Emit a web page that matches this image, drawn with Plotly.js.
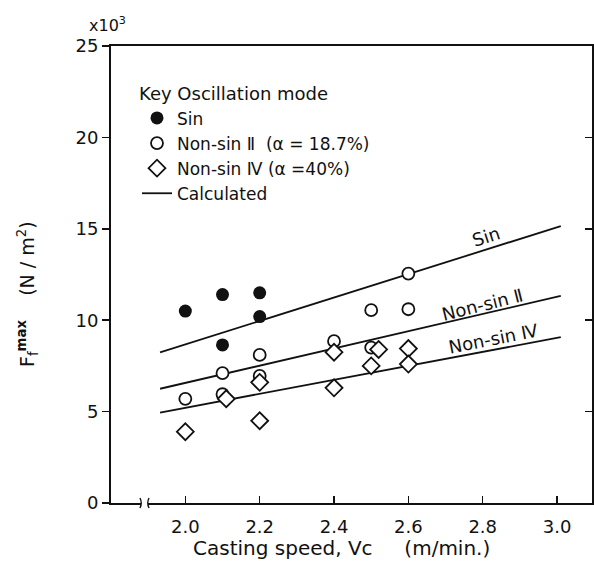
<!DOCTYPE html>
<html>
<head>
<meta charset="utf-8">
<script src="https://cdn.plot.ly/plotly-3.0.1.min.js"></script>
<style>html,body{margin:0;padding:0;background:#fff;}#chart{width:594px;height:575px;}</style>
</head>
<body>
<div id="chart"></div>
<script>
// ---- Data ----
// Casting speed Vc (m/min) and Ff max (x10^3 N/m^2)
const sinX = [2.0, 2.1, 2.2, 2.2, 2.1];
const sinY = [10.5, 11.4, 11.5, 10.2, 8.65];

const ns2X = [2.0, 2.1, 2.1, 2.2, 2.2, 2.4, 2.5, 2.5, 2.6, 2.6];
const ns2Y = [5.7, 7.1, 5.95, 8.1, 6.95, 8.85, 10.55, 8.5, 12.55, 10.6];

const ns4X = [2.0, 2.11, 2.2, 2.2, 2.4, 2.4, 2.5, 2.52, 2.6, 2.6];
const ns4Y = [3.9, 5.7, 6.6, 4.5, 8.25, 6.3, 7.5, 8.4, 8.45, 7.6];

// Calculated lines (end points)
const calcX = [1.932, 3.01];
const calcSinY = [8.24, 15.15];
const calcNs2Y = [6.25, 11.33];
const calcNs4Y = [4.95, 9.07];

const xTicks = [2.0, 2.2, 2.4, 2.6, 2.8, 3.0];
const yTicks = [0, 5, 10, 15, 20, 25];

// ---- Layout helpers ----
const W = 594, H = 575, ML = 111, MR = 2, MT = 46, MB = 72;
const PW = W - ML - MR, PH = H - MT - MB;
const px = v => (v - ML) / PW;
const py = v => (H - MB - v) / PH;

const FONT = "DejaVu Sans, Liberation Sans, sans-serif";
const BLACK = "#111";

const lineStyle = {color: BLACK, width: 1.8};

const traces = [
  {x: calcX, y: calcSinY, mode: "lines", line: lineStyle, name: "Calculated",
   legendgroup: "calc", showlegend: true, legendrank: 4, hoverinfo: "skip"},
  {x: calcX, y: calcNs2Y, mode: "lines", line: lineStyle, name: "Calculated",
   legendgroup: "calc", showlegend: false, hoverinfo: "skip"},
  {x: calcX, y: calcNs4Y, mode: "lines", line: lineStyle, name: "Calculated",
   legendgroup: "calc", showlegend: false, hoverinfo: "skip"},
  {x: sinX, y: sinY, mode: "markers", name: "Sin", legendrank: 1,
   marker: {symbol: "circle", size: 13, color: BLACK, line: {color: BLACK, width: 0}}},
  {x: ns2X, y: ns2Y, mode: "markers", name: "Non-sin \u2161\u00a0\u00a0(\u03b1 = 18.7%)", legendrank: 2,
   marker: {symbol: "circle", size: 12, color: "#fff", line: {color: BLACK, width: 1.8}}},
  {x: ns4X, y: ns4Y, mode: "markers", name: "Non-sin \u2163 (\u03b1 =40%)", legendrank: 3,
   marker: {symbol: "diamond", size: 13, color: "#fff", line: {color: BLACK, width: 1.8}}},
  // helper (empty) trace so that the right-hand tick axis is drawn
  {x: [], y: [], yaxis: "y2", mode: "markers", showlegend: false, hoverinfo: "skip"}
];

const shapes = [
  // white gap for the axis break
  {type: "rect", xref: "paper", yref: "paper",
   x0: px(141), x1: px(148), y0: py(507), y1: py(499),
   fillcolor: "#fff", line: {width: 0}, layer: "above"},
  {type: "path", xref: "paper", yref: "paper",
   path: `M ${px(140)} ${py(498)} Q ${px(142.5)} ${py(503)} ${px(140)} ${py(508)}`,
   line: {color: BLACK, width: 1.4}, layer: "above"},
  {type: "path", xref: "paper", yref: "paper",
   path: `M ${px(149)} ${py(498)} Q ${px(146.5)} ${py(503)} ${px(149)} ${py(508)}`,
   line: {color: BLACK, width: 1.4}, layer: "above"}
];

const ann = (o) => Object.assign({showarrow: false, xanchor: "center", yanchor: "middle",
  font: {size: 18, color: BLACK, family: FONT}}, o);

const annotations = [
  ann({xref: "paper", yref: "paper", x: px(107), y: py(24), text: "x10<sup>3</sup>",
   font: {size: 16, color: BLACK, family: FONT}}),
  ann({xref: "paper", yref: "paper", x: px(27), y: py(294), textangle: -90,
   text: "F<sub>f</sub><sup><b>max</b></sup>\u00a0\u00a0\u00a0\u00a0(N / m<sup>2</sup>)",
   font: {size: 19, color: BLACK, family: FONT}}),
  ann({xref: "paper", yref: "paper", x: px(341), y: py(548),
   text: "Casting speed, Vc\u00a0\u00a0\u00a0\u00a0\u00a0(m/min.)",
   font: {size: 20, color: BLACK, family: FONT}}),
  ann({xref: "x", yref: "y", x: 2.81, y: 14.6, text: "Sin", textangle: -18}),
  ann({xref: "x", yref: "y", x: 2.80, y: 10.85, text: "Non-sin \u2161", textangle: -14}),
  ann({xref: "x", yref: "y", x: 2.83, y: 9.0, text: "Non-sin \u2163", textangle: -11})
];

const layout = {
  width: W, height: H,
  margin: {l: ML, r: MR, t: MT, b: MB, pad: 0},
  paper_bgcolor: "#fff", plot_bgcolor: "#fff",
  font: {family: FONT, size: 17, color: BLACK},
  showlegend: true,
  legend: {
    x: px(137), y: py(77), xanchor: "left", yanchor: "top",
    bgcolor: "rgba(0,0,0,0)", borderwidth: 0,
    font: {size: 17, color: BLACK, family: FONT},
    title: {text: "Key Oscillation mode", font: {size: 18, color: BLACK, family: FONT}},
    tracegroupgap: 0, itemwidth: 30
  },
  xaxis: {
    range: [1.8, 3.094], tickvals: xTicks, ticktext: xTicks.map(v => v.toFixed(1)),
    ticks: "inside", ticklen: 7, tickwidth: 1.5, tickcolor: BLACK,
    showline: true, linecolor: BLACK, linewidth: 2, mirror: true,
    showgrid: false, zeroline: false, ticklabelstandoff: 6,
    tickfont: {size: 18, color: BLACK, family: FONT}
  },
  yaxis: {
    range: [0, 25], tickvals: yTicks,
    ticks: "outside", ticklen: 7, tickwidth: 1.5, tickcolor: BLACK,
    showline: true, linecolor: BLACK, linewidth: 2, mirror: true,
    showgrid: false, zeroline: false,
    tickfont: {size: 18, color: BLACK, family: FONT}
  },
  yaxis2: {
    overlaying: "y", side: "right", range: [0, 25], tickvals: yTicks.slice(1, 5),
    ticks: "inside", ticklen: 7, tickwidth: 1.5, tickcolor: BLACK,
    showticklabels: false, showline: false, showgrid: false, zeroline: false
  },
  shapes: shapes,
  annotations: annotations
};

Plotly.newPlot("chart", traces, layout, {staticPlot: true, displayModeBar: false});
</script>
</body>
</html>
